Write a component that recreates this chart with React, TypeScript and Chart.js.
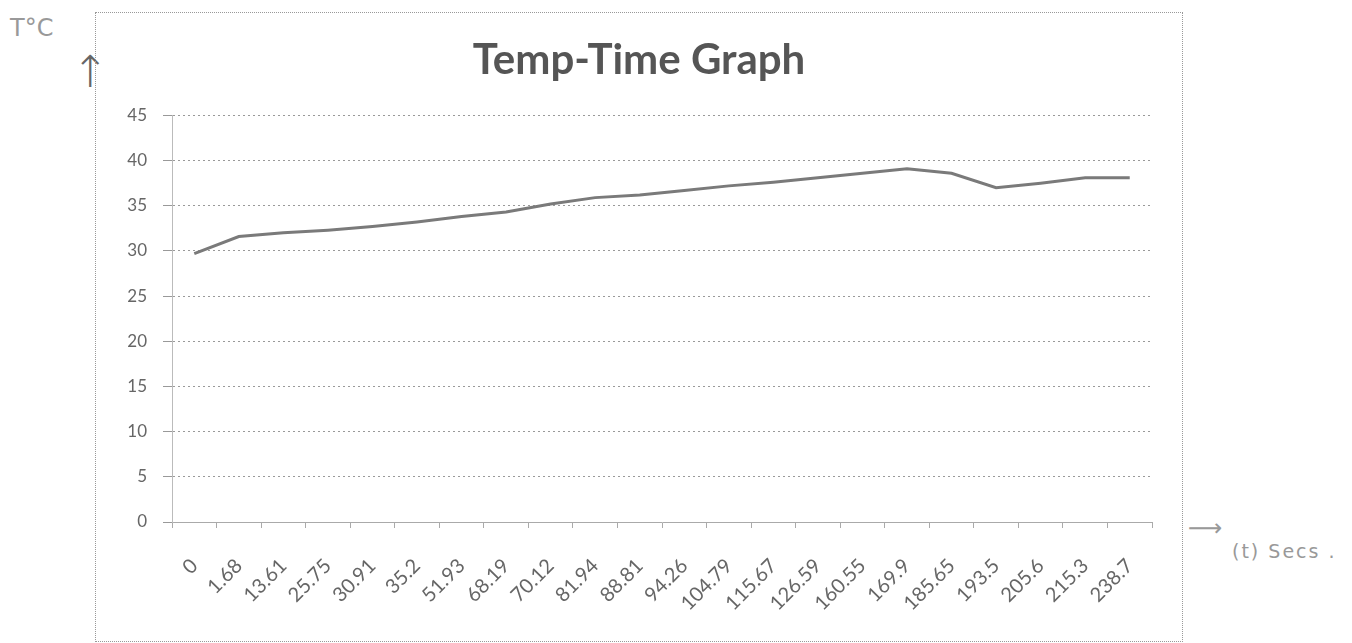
import React, { useEffect, useRef } from "react";
import { Chart, registerables } from "chart.js";

Chart.register(...registerables);

const timeLabels = [
  "0", "1.68", "13.61", "25.75", "30.91", "35.2", "51.93", "68.19", "70.12", "81.94", "88.81",
  "94.26", "104.79", "115.67", "126.59", "160.55", "169.9", "185.65", "193.5", "205.6", "215.3", "238.7",
];
const temperatures = [
  29.7, 31.6, 32.0, 32.3, 32.7, 33.2, 33.8, 34.3, 35.2, 35.9, 36.2,
  36.7, 37.2, 37.6, 38.1, 38.6, 39.1, 38.6, 37.0, 37.5, 38.1, 38.1,
];
const yMin = 0;
const yMax = 45;
const yStep = 5;
const chartTitle = "Temp-Time Graph";
const yUnitNote = "T°C";
const xUnitNote = "(t) Secs .";

const CANVAS_W = 1086;
const CANVAS_H = 628;

export default function App() {
  const canvasRef = useRef<HTMLCanvasElement | null>(null);

  useEffect(() => {
    if (!canvasRef.current) return;
    const chart = new Chart(canvasRef.current, {
      type: "line",
      data: {
        labels: timeLabels,
        datasets: [
          {
            data: temperatures,
            borderColor: "#7a7a7a",
            borderWidth: 3,
            pointRadius: 0,
            tension: 0,
            fill: false,
          },
        ],
      },
      options: {
        animation: false,
        responsive: false,
        layout: { padding: { left: 30, right: 30, top: 0, bottom: 0 } },
        plugins: {
          legend: { display: false },
          tooltip: { enabled: false },
          title: {
            display: true,
            text: chartTitle,
            color: "#555",
            font: { family: "Lato", size: 42, weight: "bold" },
            padding: { top: 22, bottom: 30 },
          },
        },
        scales: {
          x: {
            offset: true,
            grid: {
              display: true,
              drawOnChartArea: false,
              drawTicks: true,
              tickLength: 6,
              offset: true,
              color: "#aaa",
            },
            border: { display: true, color: "#aaa", dash: [2, 3] },
            ticks: {
              autoSkip: false,
              minRotation: 45,
              maxRotation: 45,
              padding: 26,
              color: "#666",
              font: { family: "Lato", size: 20 },
            },
            afterFit: (scale: any) => {
              scale.height = 119;
            },
          },
          y: {
            min: yMin,
            max: yMax,
            ticks: {
              stepSize: yStep,
              padding: 16,
              color: "#666",
              font: { family: "Lato", size: 17 },
            },
            grid: {
              color: "#999",
              tickLength: 9,
            },
            border: { display: true, color: "#bbb", dash: [2, 3] },
            afterFit: (scale: any) => {
              scale.width = 46;
            },
          },
        },
      },
    });
    return () => chart.destroy();
  }, []);

  const noteStyle: React.CSSProperties = {
    position: "absolute",
    fontFamily: "DejaVu Sans",
    color: "#999",
    whiteSpace: "nowrap",
  };

  return (
    <div style={{ position: "absolute", left: 0, top: 0, width: 1352, height: 643, background: "#fff" }}>
      <div style={{ ...noteStyle, left: 10, top: 14, fontSize: 24 }}>{yUnitNote}</div>
      <div style={{ ...noteStyle, left: 72, top: 46, fontSize: 44, color: "#666", fontWeight: 300 }}>↑</div>
      <div style={{ ...noteStyle, left: 1188, top: 514, fontSize: 24, color: "#999" }}>⟶</div>
      <div style={{ ...noteStyle, left: 1232, top: 540, fontSize: 19, letterSpacing: 2 }}>{xUnitNote}</div>
      <div
        style={{
          position: "absolute",
          left: 95,
          top: 12,
          width: 1088,
          height: 630,
          boxSizing: "border-box",
          border: "1px dotted #999",
        }}
      >
        <canvas ref={canvasRef} width={CANVAS_W} height={CANVAS_H} style={{ display: "block" }} />
      </div>
    </div>
  );
}
